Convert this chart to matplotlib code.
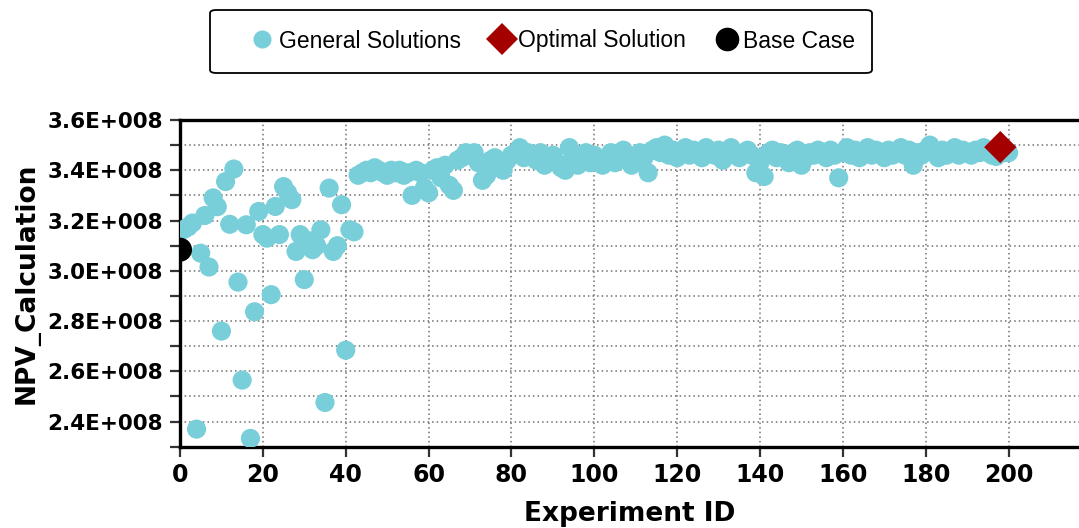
import matplotlib
matplotlib.use("Agg")
import matplotlib.pyplot as plt
from matplotlib.ticker import MultipleLocator, FuncFormatter
from matplotlib.lines import Line2D
from matplotlib.patches import FancyBboxPatch

# ---- data (NPV in units of 1e8) ----
early_ids = list(range(1, 43))
early_npv = [3.165, 3.175, 3.19, 2.37, 3.07, 3.22, 3.015, 3.29, 3.255, 2.76,
             3.355, 3.185, 3.405, 2.955, 2.565, 3.183, 2.333, 2.837, 3.236, 3.144,
             3.13, 2.905, 3.256, 3.144, 3.335, 3.31, 3.283, 3.077, 3.144, 2.965,
             3.12, 3.084, 3.10, 3.163, 2.476, 3.329, 3.077, 3.10, 3.263, 2.684,
             3.163, 3.155]
late_ids = list(range(43, 201))
late_npv = [3.38, 3.39, 3.40, 3.39, 3.41, 3.40, 3.39, 3.38, 3.40, 3.39,
            3.40, 3.38, 3.39, 3.30, 3.40, 3.39, 3.33, 3.31, 3.40, 3.41,
            3.37, 3.42, 3.34, 3.32, 3.44, 3.45, 3.47, 3.46, 3.47, 3.43,
            3.36, 3.38, 3.44, 3.45, 3.43, 3.40, 3.44, 3.46, 3.47, 3.49,
            3.45, 3.47, 3.46, 3.44, 3.47, 3.42, 3.45, 3.46, 3.43, 3.41,
            3.40, 3.49, 3.45, 3.42, 3.44, 3.47, 3.43, 3.46, 3.44, 3.42,
            3.45, 3.47, 3.43, 3.46, 3.48, 3.44, 3.42, 3.46, 3.47, 3.45,
            3.39, 3.48, 3.49, 3.47, 3.50, 3.46, 3.48, 3.45, 3.47, 3.49,
            3.46, 3.48, 3.47, 3.45, 3.49, 3.47, 3.46, 3.48, 3.44, 3.47,
            3.49, 3.46, 3.45, 3.47, 3.48, 3.46, 3.39, 3.43, 3.375, 3.47,
            3.48, 3.45, 3.47, 3.46, 3.43, 3.47, 3.48, 3.42, 3.45, 3.47,
            3.46, 3.48, 3.47, 3.45, 3.48, 3.46, 3.37, 3.47, 3.49, 3.46,
            3.48, 3.45, 3.47, 3.49, 3.46, 3.48, 3.47, 3.45, 3.48, 3.46,
            3.47, 3.49, 3.46, 3.48, 3.42, 3.47, 3.46, 3.48, 3.50, 3.47,
            3.45, 3.48, 3.46, 3.47, 3.49, 3.46, 3.48, 3.47, 3.46, 3.48,
            3.47, 3.49, 3.47, 3.46, 3.455, 3.48, 3.47, 3.47]
gen_ids = early_ids + late_ids
gen_npv = [v * 1e8 for v in early_npv + late_npv]

opt_id = [198]
opt_npv = [3.492e8]
base_id = [0]
base_npv = [3.084e8]

yticks = [2.4e8, 2.6e8, 2.8e8, 3.0e8, 3.2e8, 3.4e8, 3.6e8]
xticks = [0, 20, 40, 60, 80, 100, 120, 140, 160, 180, 200]
legend_labels = ["General Solutions", "Optimal Solution", "Base Case"]

cyan = "#78CFD9"
red = "#A50000"

fig = plt.figure(figsize=(10.79, 5.28), dpi=100)
ax = fig.add_axes([180/1079, 1 - 446.7/528, 1 - 180/1079, (446.7 - 120)/528])

ax.scatter(gen_ids, gen_npv, s=190, color=cyan, edgecolors="none", zorder=3)
ax.scatter(base_id, base_npv, s=300, color="black", edgecolors="none", zorder=4)
ax.scatter(opt_id, opt_npv, s=270, marker="D", color=red, edgecolors="none", zorder=5)

ax.set_xlim(0, 217)
ax.set_ylim(2.3e8, 3.6e8)
ax.set_xticks(xticks)
ax.set_yticks(yticks)
ax.yaxis.set_minor_locator(MultipleLocator(0.1e8))
ax.yaxis.set_major_formatter(FuncFormatter(lambda v, p: f"{v/1e8:.1f}E+008"))

ax.grid(which="both", axis="y", linestyle=(0, (1, 2)), color="#6f6f6f", linewidth=1.1, zorder=1)
ax.grid(which="major", axis="x", linestyle=(0, (1, 2)), color="#6f6f6f", linewidth=1.1, zorder=1)
ax.set_axisbelow(True)

for side in ["left", "bottom", "top"]:
    ax.spines[side].set_linewidth(2.4)
    ax.spines[side].set_color("black")
ax.spines["right"].set_visible(False)

ax.tick_params(axis="both", which="both", direction="out", length=7, width=1.6,
               color="#333333")
ax.tick_params(axis="y", which="major", labelsize=15.5, pad=5)
ax.tick_params(axis="x", which="major", labelsize=17, pad=5)
for lab in ax.get_xticklabels() + ax.get_yticklabels():
    lab.set_fontweight("bold")
    lab.set_family("DejaVu Sans")

ax.set_xlabel("Experiment ID", fontsize=19, fontweight="bold", labelpad=10)
ax.set_ylabel("NPV_Calculation", fontsize=19, fontweight="bold", labelpad=6)

handles = [
    Line2D([], [], linestyle="none", marker="o", markersize=13, color=cyan, markeredgewidth=0),
    Line2D([], [], linestyle="none", marker="D", markersize=16, color=red, markeredgewidth=0),
    Line2D([], [], linestyle="none", marker="o", markersize=17, color="black", markeredgewidth=0),
]
leg = fig.legend(handles, legend_labels,
                 loc="center", bbox_to_anchor=(553/1079, 1 - 41/528), ncol=3,
                 prop={"family": "Liberation Sans", "size": 16.5},
                 frameon=False,
                 handletextpad=0.2, columnspacing=1.3, borderpad=0.2,
                 handlelength=1.0)

frame = FancyBboxPatch((210/1079, 1 - 73/528), (872 - 210)/1079, 63/528,
                       boxstyle="round,pad=0,rounding_size=0.006",
                       transform=fig.transFigure, facecolor="white",
                       edgecolor="black", linewidth=1.3, zorder=0)
fig.patches.append(frame)

fig.savefig("out.png", dpi=100)
